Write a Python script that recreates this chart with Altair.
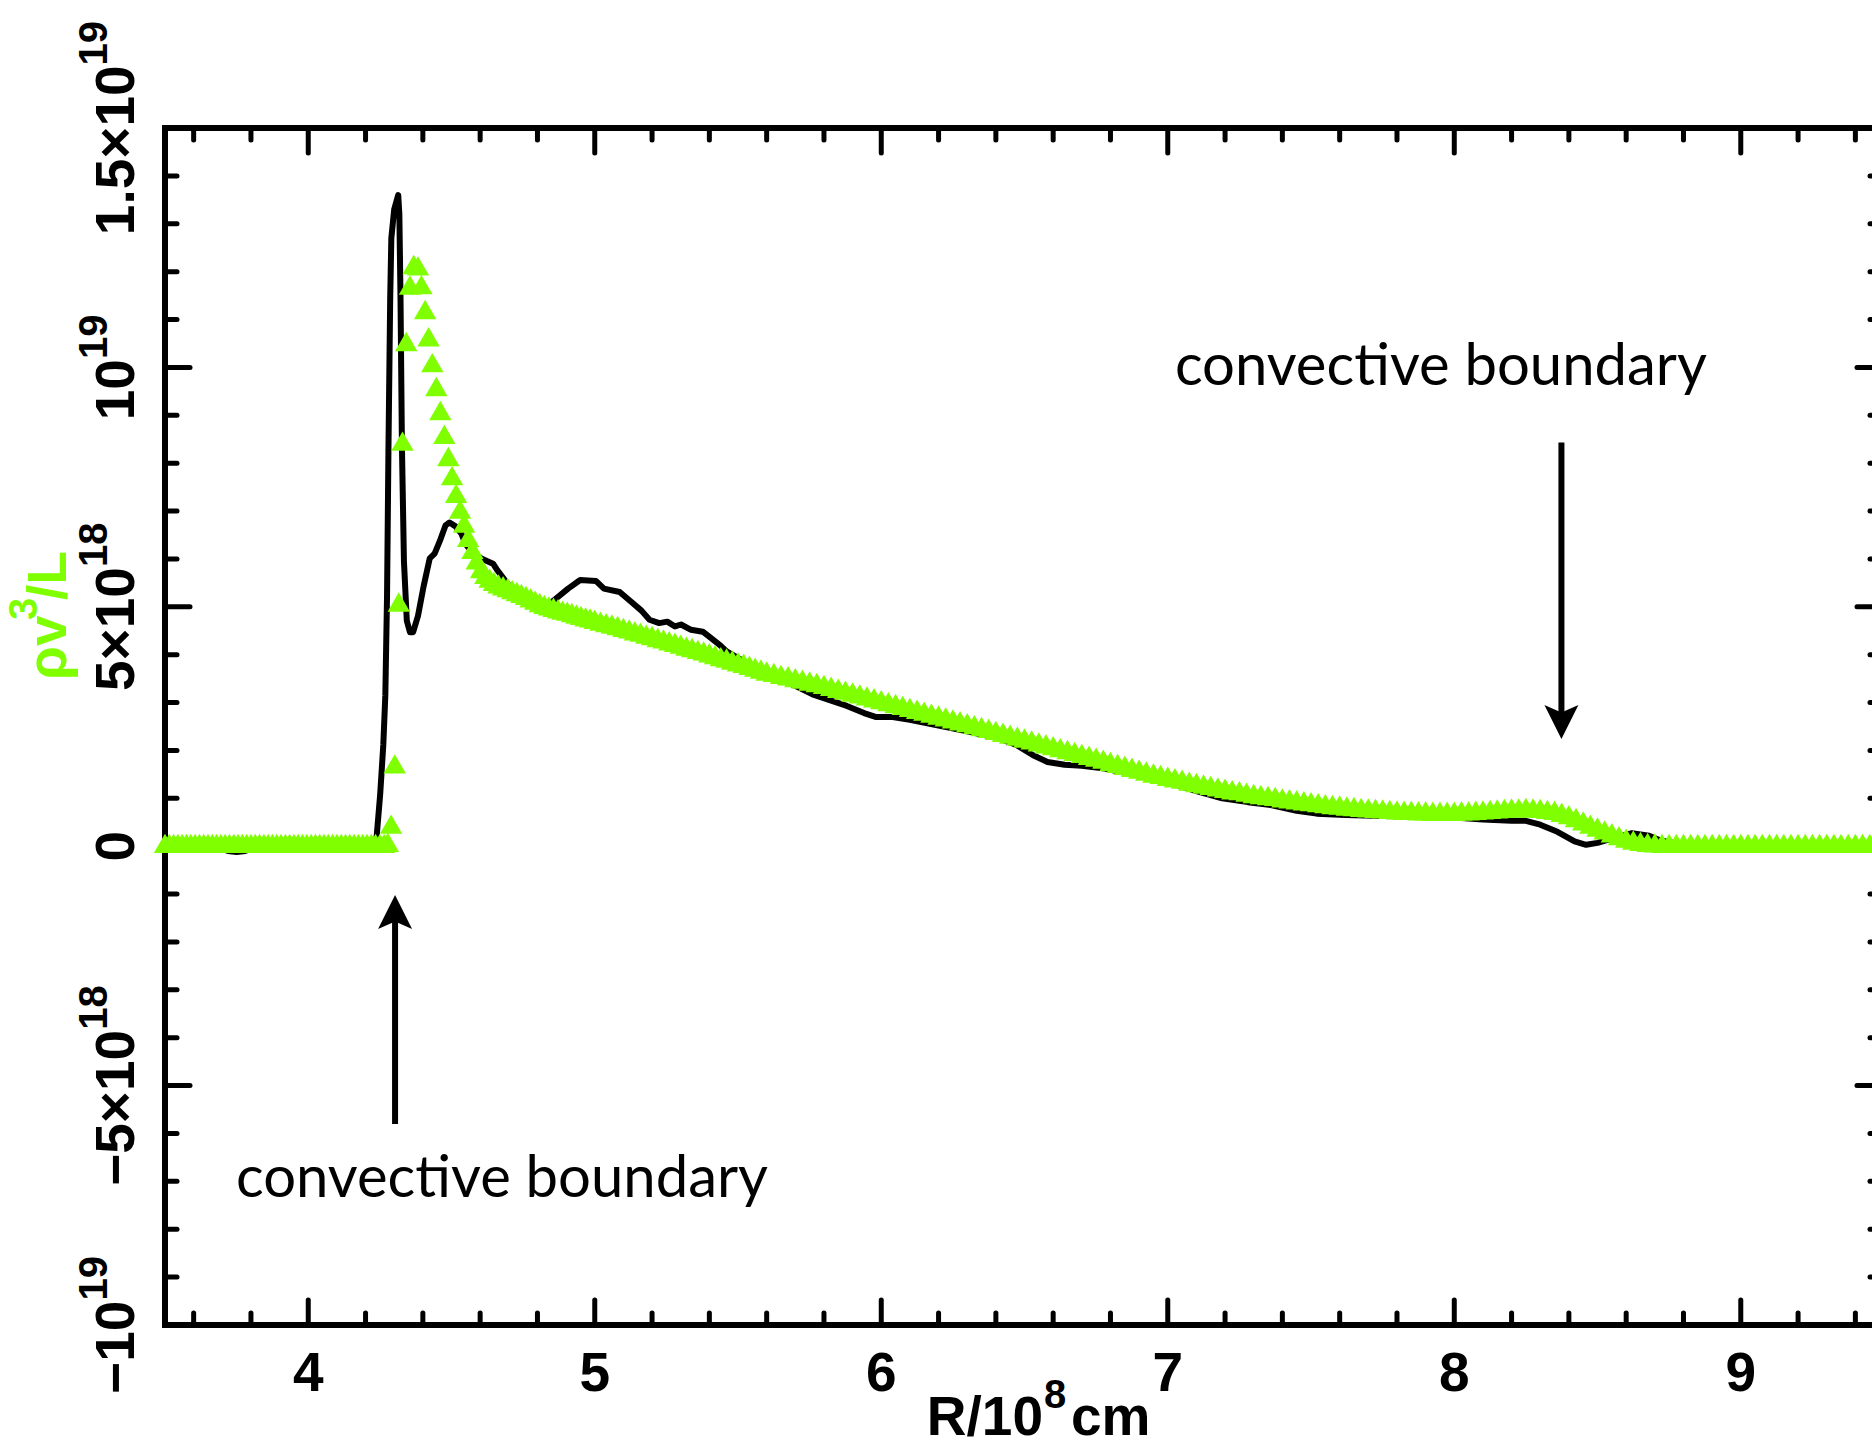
import altair as alt
import pandas as pd

# ------------------------------------------------------------------ data
# black solid curve  (R in 1e8 cm, value in 1e18)
black_points = [
    (3.50, 0.0), (3.60, 0.0), (3.68, -0.03), (3.72, -0.10), (3.75, -0.12), (3.78, -0.10),
    (3.82, -0.02), (3.90, 0.0), (4.00, 0.0), (4.10, 0.0), (4.20, 0.0), (4.230, 0.02),
    (4.238, 0.15), (4.251, 1.08), (4.262, 2.12), (4.269, 3.15), (4.275, 5.23), (4.280, 8.34),
    (4.286, 11.45), (4.290, 12.7), (4.300, 13.3), (4.314, 13.6), (4.318, 13.2), (4.322, 11.45),
    (4.327, 8.34), (4.334, 5.95), (4.344, 4.71), (4.355, 4.47), (4.366, 4.47), (4.383, 4.81),
    (4.403, 5.44), (4.424, 6.01), (4.441, 6.11), (4.459, 6.37), (4.479, 6.70), (4.493, 6.76),
    (4.514, 6.68), (4.535, 6.52), (4.548, 6.32), (4.569, 6.16), (4.604, 6.01), (4.645, 5.90),
    (4.659, 5.77), (4.70, 5.45), (4.75, 5.25), (4.80, 5.10), (4.84, 5.05), (4.866, 5.18),
    (4.907, 5.38), (4.949, 5.56), (5.004, 5.54), (5.032, 5.38), (5.087, 5.31), (5.128, 5.10),
    (5.163, 4.92), (5.191, 4.73), (5.225, 4.66), (5.253, 4.69), (5.280, 4.59), (5.301, 4.63),
    (5.336, 4.52), (5.377, 4.48), (5.405, 4.35), (5.439, 4.19), (5.460, 4.07), (5.52, 3.86),
    (5.58, 3.66), (5.64, 3.50), (5.70, 3.35), (5.76, 3.17), (5.82, 3.05), (5.88, 2.93),
    (5.94, 2.78), (5.98, 2.70), (6.04, 2.70), (6.10, 2.64), (6.20, 2.52), (6.30, 2.40),
    (6.40, 2.27), (6.47, 2.12), (6.53, 1.90), (6.58, 1.76), (6.64, 1.70), (6.70, 1.68),
    (6.78, 1.62), (6.86, 1.52), (6.94, 1.42), (7.02, 1.30), (7.10, 1.15), (7.19, 1.00),
    (7.28, 0.92), (7.36, 0.86), (7.45, 0.74), (7.52, 0.68), (7.62, 0.65), (7.75, 0.63),
    (7.90, 0.62), (8.00, 0.60), (8.10, 0.56), (8.20, 0.53), (8.25, 0.53), (8.30, 0.45),
    (8.36, 0.30), (8.42, 0.10), (8.46, 0.03), (8.50, 0.07), (8.55, 0.16), (8.62, 0.27),
    (8.68, 0.22), (8.72, 0.12), (8.78, 0.05), (8.90, 0.0), (9.50, 0.0),
]

# green triangles (rho v^3 / L)
green_points = [
    (3.500, 0.06), (3.515, 0.06), (3.530, 0.06), (3.545, 0.06), (3.560, 0.06), (3.575, 0.06),
    (3.590, 0.06), (3.605, 0.06), (3.620, 0.06), (3.635, 0.06), (3.650, 0.06), (3.665, 0.06),
    (3.680, 0.06), (3.695, 0.06), (3.710, 0.06), (3.725, 0.06), (3.740, 0.06), (3.755, 0.06),
    (3.770, 0.06), (3.785, 0.06), (3.800, 0.06), (3.815, 0.06), (3.830, 0.06), (3.845, 0.06),
    (3.860, 0.06), (3.875, 0.06), (3.890, 0.06), (3.905, 0.06), (3.920, 0.06), (3.935, 0.06),
    (3.950, 0.06), (3.965, 0.06), (3.980, 0.06), (3.995, 0.06), (4.010, 0.06), (4.025, 0.06),
    (4.040, 0.06), (4.055, 0.06), (4.070, 0.06), (4.085, 0.06), (4.100, 0.06), (4.115, 0.06),
    (4.130, 0.06), (4.145, 0.06), (4.160, 0.06), (4.175, 0.06), (4.190, 0.06), (4.205, 0.06),
    (4.220, 0.06), (4.235, 0.06), (4.250, 0.06), (4.265, 0.06), (4.278, 0.08),
    (4.289, 0.46), (4.302, 1.72), (4.316, 5.10), (4.329, 8.46), (4.342, 10.54), (4.355, 11.72),
    (4.368, 12.15), (4.383, 12.12), (4.395, 11.73), (4.408, 11.21), (4.420, 10.64), (4.433, 10.10),
    (4.447, 9.60), (4.461, 9.10), (4.475, 8.60), (4.489, 8.14), (4.502, 7.74), (4.516, 7.37),
    (4.530, 7.04), (4.544, 6.75), (4.558, 6.45), (4.573, 6.20), (4.588, 5.98), (4.603, 5.80),
    (4.618, 5.68), (4.633, 5.60), (4.648, 5.53),
    (4.664, 5.48), (4.680, 5.44), (4.696, 5.40), (4.712, 5.36), (4.728, 5.32), (4.744, 5.28),
    (4.760, 5.24), (4.776, 5.19), (4.792, 5.14), (4.808, 5.09), (4.824, 5.05), (4.840, 5.02),
    (4.856, 4.99), (4.872, 4.96), (4.888, 4.93), (4.904, 4.91), (4.920, 4.88), (4.936, 4.85),
    (4.952, 4.82), (4.968, 4.79), (4.984, 4.77), (5.000, 4.74),
    (5.020, 4.70), (5.040, 4.67), (5.060, 4.64), (5.080, 4.61), (5.100, 4.57), (5.120, 4.54),
    (5.140, 4.50), (5.160, 4.47), (5.180, 4.43), (5.200, 4.40), (5.220, 4.36), (5.240, 4.33),
    (5.260, 4.29), (5.280, 4.26), (5.300, 4.22), (5.320, 4.18), (5.340, 4.15), (5.360, 4.11),
    (5.380, 4.08), (5.400, 4.04), (5.420, 4.00), (5.440, 3.96), (5.460, 3.93), (5.480, 3.89),
    (5.500, 3.85), (5.520, 3.82), (5.540, 3.78), (5.560, 3.74), (5.580, 3.70), (5.600, 3.66),
    (5.625, 3.63), (5.650, 3.59), (5.675, 3.56), (5.700, 3.52), (5.725, 3.49), (5.750, 3.45),
    (5.775, 3.42), (5.800, 3.38), (5.825, 3.34), (5.850, 3.30), (5.875, 3.26), (5.900, 3.22),
    (5.925, 3.18), (5.950, 3.14), (5.975, 3.10), (6.000, 3.06), (6.025, 3.02), (6.050, 2.98),
    (6.075, 2.94), (6.100, 2.90), (6.125, 2.86), (6.150, 2.82), (6.175, 2.78), (6.200, 2.74),
    (6.225, 2.70), (6.250, 2.66), (6.275, 2.62), (6.300, 2.58), (6.325, 2.54), (6.350, 2.50),
    (6.375, 2.46), (6.400, 2.42), (6.425, 2.38), (6.450, 2.34), (6.475, 2.30), (6.500, 2.26),
    (6.525, 2.22), (6.550, 2.18), (6.575, 2.14), (6.600, 2.10), (6.625, 2.06), (6.650, 2.02),
    (6.675, 1.98), (6.700, 1.94), (6.725, 1.90), (6.750, 1.86), (6.775, 1.82), (6.800, 1.77),
    (6.825, 1.73), (6.850, 1.69), (6.875, 1.65), (6.900, 1.61), (6.925, 1.57), (6.950, 1.53),
    (6.975, 1.50), (7.000, 1.46), (7.025, 1.43), (7.050, 1.40), (7.075, 1.36), (7.100, 1.33),
    (7.125, 1.30), (7.150, 1.27), (7.175, 1.24), (7.200, 1.21), (7.225, 1.18), (7.250, 1.16),
    (7.275, 1.13), (7.300, 1.10), (7.325, 1.08), (7.350, 1.06), (7.375, 1.04), (7.400, 1.01),
    (7.425, 0.99), (7.450, 0.97), (7.475, 0.95), (7.500, 0.93), (7.525, 0.91), (7.550, 0.89),
    (7.575, 0.87), (7.600, 0.86), (7.625, 0.84), (7.650, 0.83), (7.675, 0.81), (7.700, 0.80),
    (7.725, 0.79), (7.750, 0.78), (7.775, 0.77), (7.800, 0.76), (7.825, 0.75), (7.850, 0.75),
    (7.875, 0.74), (7.900, 0.74), (7.925, 0.73), (7.950, 0.73), (7.975, 0.73), (8.000, 0.73),
    (8.025, 0.74), (8.050, 0.74), (8.075, 0.75), (8.100, 0.76), (8.125, 0.77), (8.150, 0.78),
    (8.175, 0.79), (8.200, 0.80), (8.225, 0.80), (8.250, 0.81), (8.275, 0.80), (8.300, 0.79),
    (8.325, 0.77), (8.350, 0.75), (8.375, 0.71), (8.400, 0.66), (8.425, 0.60), (8.450, 0.53),
    (8.475, 0.46), (8.500, 0.40), (8.525, 0.34), (8.550, 0.28), (8.575, 0.22), (8.600, 0.17),
    (8.625, 0.13), (8.650, 0.10), (8.675, 0.08), (8.700, 0.07), (8.725, 0.06), (8.750, 0.06),
    (8.775, 0.06), (8.800, 0.06), (8.825, 0.06), (8.850, 0.06), (8.875, 0.06), (8.900, 0.06),
    (8.925, 0.06), (8.950, 0.06), (8.975, 0.06), (9.000, 0.06), (9.025, 0.06), (9.050, 0.06),
    (9.075, 0.06), (9.100, 0.06), (9.125, 0.06), (9.150, 0.06), (9.175, 0.06), (9.200, 0.06),
    (9.225, 0.06), (9.250, 0.06), (9.275, 0.06), (9.300, 0.06), (9.325, 0.06), (9.350, 0.06),
    (9.375, 0.06), (9.400, 0.06), (9.425, 0.06), (9.450, 0.06), (9.475, 0.06), (9.500, 0.06),
]

x_major = [4, 5, 6, 7, 8, 9]
x_labels = ["4", "5", "6", "7", "8", "9"]
x_minor = [3.6, 3.8, 4.2, 4.4, 4.6, 4.8, 5.2, 5.4, 5.6, 5.8, 6.2, 6.4, 6.6, 6.8,
           7.2, 7.4, 7.6, 7.8, 8.2, 8.4, 8.6, 8.8, 9.2, 9.4]
y_major = [-10, -5, 0, 5, 10, 15]
y_label_base = ["\u221210", "\u22125\u00d710", "0", "5\u00d710", "10", "1.5\u00d710"]
y_label_exp = ["19", "18", "", "18", "19", "19"]
y_minor = [-9, -8, -7, -6, -4, -3, -2, -1, 1, 2, 3, 4, 6, 7, 8, 9, 11, 12, 13, 14]

ann_text = ["convec\u200ctive boundary", "convec\u200ctive boundary"]
ann_r = [3.748, 7.025]
ann_v = [-7.32, 9.64]
arrow_r = [4.303, 8.374]
arrow_from = [-5.80, 8.43]
arrow_tip = [-1.02, 2.24]

# ------------------------------------------------------------------ layout / style
W = 1707          # visible plot width (chart is cropped at the right like the original)
H = 1197
RIGHT_FRAME = 1717
XDOM = [3.5, 9.458]
YDOM = [-10, 15]
PPU = H / (YDOM[1] - YDOM[0])
GREEN = "#7FFF00"
LBL_FONT = "Liberation Sans"
ANN_FONT = "Lato"
FS, FS_EXP = 55, 40

xs = alt.Scale(domain=XDOM, nice=False, zero=False)
ys = alt.Scale(domain=YDOM, nice=False, zero=False)


def X(f="r"):
    return alt.X(f"{f}:Q", scale=xs, axis=None)


def Y(f="v"):
    return alt.Y(f"{f}:Q", scale=ys, axis=None)


HELV = {c: 0.556 for c in "0123456789"}
HELV.update({".": 0.278, "\u00d7": 0.584, "\u2212": 0.584})


def tw(s, fs):
    return sum(HELV.get(c, 0.556) for c in s) * fs


black_df = pd.DataFrame(black_points, columns=["r", "v"])
green_df = pd.DataFrame(green_points, columns=["r", "v"])

xmaj_df = pd.DataFrame({"r": x_major, "lab": x_labels})
xmin_df = pd.DataFrame({"r": x_minor})
ymaj_df = pd.DataFrame({"v": y_major, "base": y_label_base, "exp": y_label_exp})
ymaj_df["j"] = [v + (tw(b, FS) - tw(e, FS_EXP)) / 2.0 / PPU
                for v, b, e in zip(y_major, y_label_base, y_label_exp)]
ymin_df = pd.DataFrame({"v": y_minor})
ann_df = pd.DataFrame({"r": ann_r, "v": ann_v, "t": ann_text})
arrow_df = pd.DataFrame({"r": arrow_r, "a": arrow_from, "v": arrow_tip})
up_df = arrow_df.iloc[[0]]
down_df = arrow_df.iloc[[1]]
one = pd.DataFrame({"k": [0]})

TW = 5
FW = 6
layers = []

# frame (left, top, bottom)
layers.append(alt.Chart(one).mark_rule(color="black", strokeWidth=FW, strokeCap="square").encode(
    x=alt.value(0), y=alt.value(0), y2=alt.value(H)))
layers.append(alt.Chart(one).mark_rule(color="black", strokeWidth=FW, strokeCap="square").encode(
    y=alt.value(0), x=alt.value(0), x2=alt.value(RIGHT_FRAME)))
layers.append(alt.Chart(one).mark_rule(color="black", strokeWidth=FW, strokeCap="square").encode(
    y=alt.value(H), x=alt.value(0), x2=alt.value(RIGHT_FRAME)))

# ticks (all pointing inward)
for df, ln in ((xmaj_df, 25), (xmin_df, 12)):
    layers.append(alt.Chart(df).mark_rule(color="black", strokeWidth=TW, strokeCap="round").encode(
        x=X(), y=alt.value(H), y2=alt.value(H - ln)))
    layers.append(alt.Chart(df).mark_rule(color="black", strokeWidth=TW, strokeCap="round").encode(
        x=X(), y=alt.value(0), y2=alt.value(ln)))
for df, ln in ((ymaj_df, 25), (ymin_df, 12)):
    layers.append(alt.Chart(df).mark_rule(color="black", strokeWidth=TW, strokeCap="round").encode(
        y=Y(), x=alt.value(0), x2=alt.value(ln)))
    layers.append(alt.Chart(df).mark_rule(color="black", strokeWidth=TW, strokeCap="round").encode(
        y=Y(), x=alt.value(RIGHT_FRAME - ln), x2=alt.value(RIGHT_FRAME)))

# data
layers.append(alt.Chart(black_df).mark_line(color="black", strokeWidth=6, strokeJoin="round",
                                            strokeCap="round").encode(x=X(), y=Y()))
layers.append(alt.Chart(green_df).mark_point(shape="triangle-up", filled=True, color=GREEN, size=500,
                                             opacity=1, strokeWidth=0).encode(x=X(), y=Y()))

# arrows
UP = "M0,-1 L1,1 L0,0.55 L-1,1 Z"
DOWN = "M0,1 L1,-1 L0,-0.55 L-1,-1 Z"
layers.append(alt.Chart(up_df).mark_rule(color="black", strokeWidth=6, y2Offset=20).encode(
    x=X(), y=Y("a"), y2=alt.Y2("v:Q")))
layers.append(alt.Chart(down_df).mark_rule(color="black", strokeWidth=6, y2Offset=-20).encode(
    x=X(), y=Y("a"), y2=alt.Y2("v:Q")))
layers.append(alt.Chart(up_df).mark_point(shape=UP, filled=True, color="black", size=1156, opacity=1,
                                          strokeWidth=0, yOffset=17).encode(x=X(), y=Y()))
layers.append(alt.Chart(down_df).mark_point(shape=DOWN, filled=True, color="black", size=1156, opacity=1,
                                            strokeWidth=0, yOffset=-17).encode(x=X(), y=Y()))

# annotations
layers.append(alt.Chart(ann_df).mark_text(align="left", baseline="alphabetic", font=ANN_FONT,
                                          fontSize=58, color="black").encode(
    x=X(), y=Y(), text="t:N"))

# x tick labels
layers.append(alt.Chart(xmaj_df).mark_text(align="center", baseline="alphabetic", font=LBL_FONT,
                                           fontWeight="bold", fontSize=FS, color="black").encode(
    x=X(), y=alt.value(H + 66), text="lab:N"))

# y tick labels (rotated, with raised exponent)
layers.append(alt.Chart(ymaj_df).mark_text(angle=270, align="right", baseline="alphabetic", font=LBL_FONT,
                                           fontWeight="bold", fontSize=FS, color="black").encode(
    x=alt.value(-31), y=Y("j"), text="base:N"))
layers.append(alt.Chart(ymaj_df).mark_text(angle=270, align="left", baseline="alphabetic", font=LBL_FONT,
                                           fontWeight="bold", fontSize=FS_EXP, color="black").encode(
    x=alt.value(-58), y=Y("j"), text="exp:N"))

# x title  R/10^8 cm
for txt, xpos, ypos, fs, al in (("R/10", 878, H + 110, FS, "right"),
                                ("8", 879, H + 83, FS_EXP, "left"),
                                ("cm", 906, H + 110, FS, "left")):
    layers.append(alt.Chart(pd.DataFrame({"t": [txt]})).mark_text(
        align=al, baseline="alphabetic", font=LBL_FONT, fontWeight="bold", fontSize=fs, color="black").encode(
        x=alt.value(xpos), y=alt.value(ypos), text="t:N"))

# y title  rho v^3 / L (green, rotated)
for txt, xpos, ypos, fs in (("\u03c1v", -99, 552, FS),
                            ("3", -128, 492, FS_EXP),
                            ("/L", -99, 472, FS)):
    layers.append(alt.Chart(pd.DataFrame({"t": [txt]})).mark_text(
        angle=270, align="left", baseline="alphabetic", font=LBL_FONT, fontWeight="bold", fontSize=fs,
        color=GREEN).encode(x=alt.value(xpos), y=alt.value(ypos), text="t:N"))

chart = alt.layer(*layers).properties(
    width=W, height=H,
    padding={"left": 165, "top": 128, "right": 0, "bottom": 124},
    autosize=alt.AutoSizeParams(type="none"),
    background="white",
).configure_view(stroke=None)

chart.save("out.html", embed_options={"renderer": "svg", "actions": False})
